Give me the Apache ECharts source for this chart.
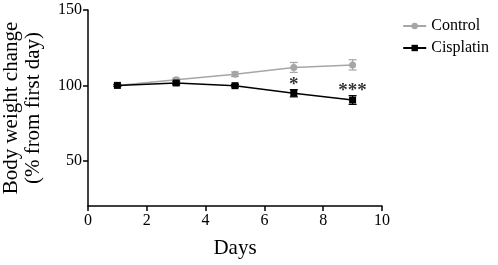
<!DOCTYPE html>
<html><head><meta charset="utf-8">
<script src="https://cdn.jsdelivr.net/npm/echarts@6/dist/echarts.min.js"></script>
<style>html,body{margin:0;padding:0;background:#fff}#c{width:498px;height:265px}</style>
</head><body><div id="c"></div>
<script>
const days = [1, 3, 5, 7, 9];
const controlMean = [100, 103.8, 107.4, 111.9, 113.6];
const controlErr = [0.6, 1.0, 1.5, 3.3, 3.4];
const cisMean = [100, 101.6, 99.8, 94.8, 90.3];
const cisErr = [0.6, 1.2, 0.8, 2.4, 2.9];
const sigLabels = ['', '', '', '*', '***'];
const xTicks = [0, 2, 4, 6, 8, 10];
const yTicks = [50, 100, 150];

const FONT = '"Liberation Serif", "Times New Roman", serif';
const GRAY = '#a6a6a6';
const BLACK = '#000';

function errSeries(name, mean, err, color) {
  return {
    type: 'custom', name: name + ' err', silent: true, z: 1,
    data: days.map((d, i) => [d, mean[i] - err[i], mean[i] + err[i]]),
    renderItem: function (params, api) {
      const lo = api.coord([api.value(0), api.value(1)]);
      const hi = api.coord([api.value(0), api.value(2)]);
      const w = 4;
      const st = { stroke: color, lineWidth: 1.2 };
      return { type: 'group', children: [
        { type: 'line', shape: { x1: lo[0], y1: lo[1], x2: hi[0], y2: hi[1] }, style: st },
        { type: 'line', shape: { x1: lo[0] - w, y1: lo[1], x2: lo[0] + w, y2: lo[1] }, style: st },
        { type: 'line', shape: { x1: hi[0] - w, y1: hi[1], x2: hi[0] + w, y2: hi[1] }, style: st }
      ]};
    }
  };
}

const chart = echarts.init(document.getElementById('c'));
chart.setOption({
  animation: false,
  textStyle: { fontFamily: FONT },
  grid: { left: 88, top: 10, right: 116, bottom: 59, outerBoundsMode: 'none', containLabel: false },
  legend: {
    right: 4, top: 13, orient: 'vertical', itemGap: 6, itemWidth: 23, itemHeight: 8,
    textStyle: { fontFamily: FONT, fontSize: 16, color: '#000' },
    data: ['Control', 'Cisplatin']
  },
  xAxis: {
    type: 'value', min: 0, max: 10, interval: 2,
    name: 'Days', nameLocation: 'middle', nameGap: 32,
    nameTextStyle: { fontFamily: FONT, fontSize: 21, color: '#000' },
    axisLine: { lineStyle: { color: '#000', width: 1.5 } },
    axisTick: { show: true, length: 5, lineStyle: { color: '#000', width: 1.5 } },
    axisLabel: { fontFamily: FONT, fontSize: 16, color: '#000', margin: 7, customValues: xTicks },
    splitLine: { show: false }
  },
  yAxis: {
    type: 'value', min: 20, max: 150,
    name: 'Body weight change\n(% from first day)', nameLocation: 'middle', nameGap: 44, nameRotate: 90,
    nameTextStyle: { fontFamily: FONT, fontSize: 21, color: '#000', lineHeight: 22 },
    axisLine: { show: true, lineStyle: { color: '#000', width: 1.5 } },
    axisTick: { show: true, length: 5, lineStyle: { color: '#000', width: 1.5 }, customValues: yTicks },
    axisLabel: { fontFamily: FONT, fontSize: 16, color: '#000', margin: 6, customValues: yTicks },
    splitLine: { show: false }
  },
  series: [
    errSeries('Control', controlMean, controlErr, GRAY),
    errSeries('Cisplatin', cisMean, cisErr, BLACK),
    {
      name: 'Control', type: 'line', z: 3,
      data: days.map((d, i) => [d, controlMean[i]]),
      symbol: 'circle', symbolSize: 7,
      itemStyle: { color: GRAY }, lineStyle: { color: GRAY, width: 1.5 }
    },
    {
      name: 'Cisplatin', type: 'line', z: 4,
      data: days.map((d, i) => [d, cisMean[i]]),
      symbol: 'rect', symbolSize: 7,
      itemStyle: { color: BLACK }, lineStyle: { color: BLACK, width: 1.5 }
    },
    {
      name: 'sig', type: 'scatter', z: 5, silent: true, symbolSize: 0,
      data: days.map((d, i) => [d, cisMean[i] + cisErr[i], sigLabels[i]]).filter(p => p[2]),
      label: {
        show: true, position: 'inside', offset: [0, -4.5],
        formatter: p => p.value[2],
        fontFamily: FONT, fontSize: 19, fontWeight: 'bold', color: '#000'
      }
    }
  ]
});
</script></body></html>
